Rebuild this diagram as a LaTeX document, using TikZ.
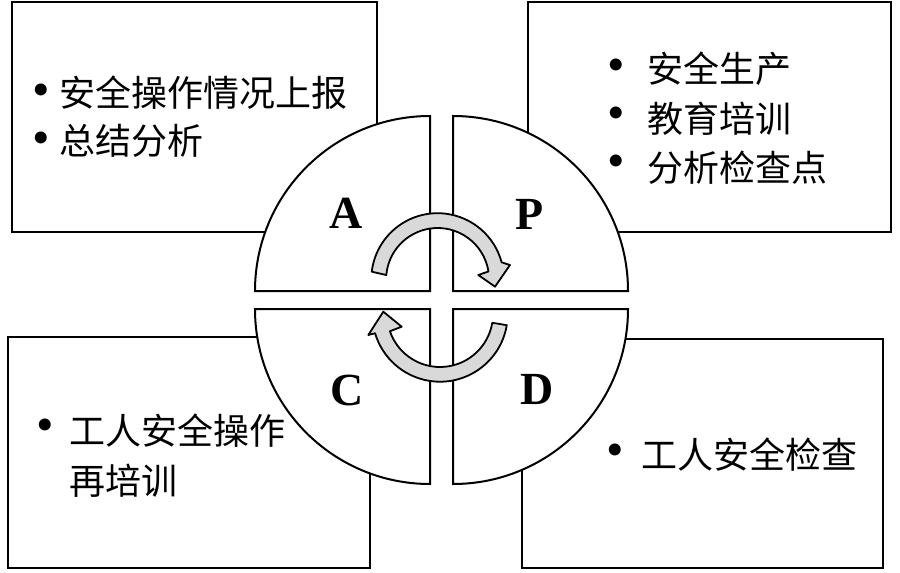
\documentclass[tikz,border=0pt]{standalone}
\usepackage{fontspec}
\setmainfont{Liberation Serif}
\newfontfamily\cjk{Noto Sans CJK SC}
\usetikzlibrary{calc}
\tikzset{
  box/.style={draw=black, line width=2pt, fill=white},
  quad/.style={draw=black, line width=2pt, fill=white},
  cyc/.style={draw=black, line width=1.8pt, fill=black!15, line join=round},
  txt/.style={anchor=west, inner sep=0pt, font=\cjk\fontsize{36}{36}\selectfont},
  dot/.style={inner sep=0pt, font=\fontsize{50}{50}\selectfont},
  letter/.style={inner sep=0pt, font=\bfseries\fontsize{46}{46}\selectfont}
}
\begin{document}
\begin{tikzpicture}[x=1pt,y=-1pt]
\useasboundingbox[fill=white] (0,0) rectangle (900,573);
% boxes
\draw[box] (12,2) rectangle (377,232);
\draw[box] (528,2) rectangle (891,232);
\draw[box] (8,337) rectangle (370,568);
\draw[box] (522,339) rectangle (883,568);
% quadrants
\draw[quad] (430,291) -- (255,291) arc[start angle=180, end angle=270, radius=175] -- cycle;
\draw[quad] (453,291) -- (453,116) arc[start angle=-90, end angle=0, radius=175] -- cycle;
\draw[quad] (430,309) -- (255,309) arc[start angle=180, end angle=90, radius=175] -- cycle;
\draw[quad] (453,309) -- (628,309) arc[start angle=0, end angle=90, radius=175] -- cycle;
% letters
\node[letter] (A) at (346,213.3) {A};
\node[letter] (P) at (530,214.5) {P};
\node[letter] (C) at (346.7,390) {C};
\node[letter] (D) at (537.5,389) {D};
% cycle arrows
\coordinate (ct) at (437.6,279.5);
\coordinate (cb) at (440,314);
\draw[cyc] ($(ct)+(-173.25:66.3)$) arc[start angle=-173.25, end angle=-15, radius=66.3]
  -- (510,265) -- (495,286.7) -- (478.3,275)
  -- ($(ct)+(-9:51.5)$) arc[start angle=-9, end angle=-175, radius=51.5] -- cycle;
\draw[cyc] ($(cb)+(9.5:67.7)$) arc[start angle=9.5, end angle=163.5, radius=67.7]
  -- (368.3,335) -- (383.3,311.7) -- (401.7,326.7)
  -- ($(cb)+(161:53)$) arc[start angle=161, end angle=9.5, radius=53] -- cycle;
% texts
\node[dot] (b1) at (41.7,95) {•};
\node[txt] (t1) at (59,92.5) {安全操作情况上报};
\node[dot] (b2) at (41.7,143) {•};
\node[txt] (t2) at (59,141) {总结分析};
\node[dot] (b3) at (616.7,70) {•};
\node[txt] (t3) at (647,68.3) {安全生产};
\node[dot] (b4) at (616.7,118.3) {•};
\node[txt] (t4) at (647,118.3) {教育培训};
\node[dot] (b5) at (616.7,166.7) {•};
\node[txt] (t5) at (647,167.5) {分析检查点};
\node[dot] (b6) at (45,430) {•};
\node[txt] (t6) at (69,430.8) {工人安全操作};
\node[txt] (t7) at (69,480.8) {再培训};
\node[dot] (b8) at (615,455) {•};
\node[txt] (t8) at (641,455) {工人安全检查};
\end{tikzpicture}
\end{document}
